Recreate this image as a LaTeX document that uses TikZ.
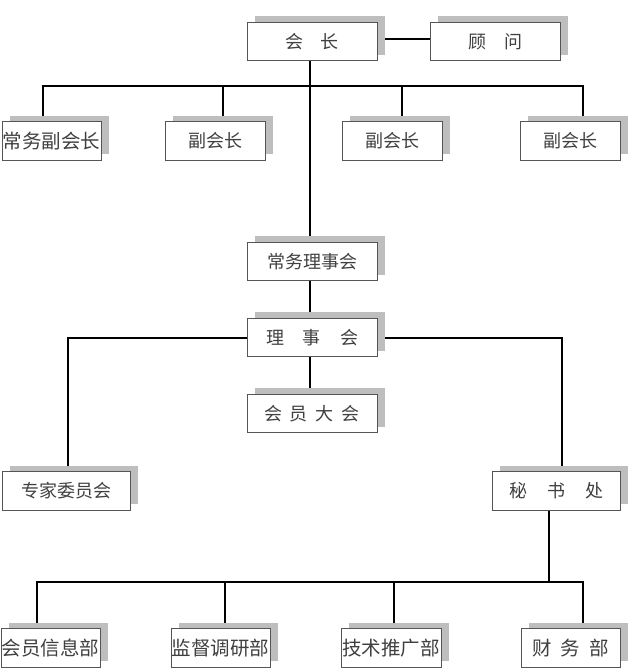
\documentclass[tikz,border=0pt]{standalone}
\usepackage{fontspec}
\newfontfamily\cjk{Noto Sans CJK SC}
\usetikzlibrary{shadows,calc}
\pgfdeclarelayer{bg}
\pgfsetlayers{bg,main}
\definecolor{shadowgray}{HTML}{BEBEBE}
\definecolor{boxline}{HTML}{555555}
\definecolor{txt}{HTML}{404040}
\tikzset{
  box/.style={draw=boxline, line width=0.9pt, fill=white, inner sep=0pt,
    minimum height=38.5pt, text=txt, font=\cjk\fontsize{18}{20}\selectfont,
    drop shadow={shadow xshift=8pt, shadow yshift=6pt, fill=shadowgray, opacity=1}},
  conn/.style={line width=2pt, black}
}
\newcommand{\gp}[1]{\hspace{#1pt}}
\begin{document}
\begin{tikzpicture}[x=1pt,y=-1pt]
\useasboundingbox (0,0) rectangle (629,669);
% top
\node[box, minimum width=130pt] (hz) at (312,41.5) {会\gp{17}长};
\node[box, minimum width=130pt] (gw) at (495,41.5) {顾\gp{18}问};
% vice presidents
\node[box, minimum width=99pt, font=\cjk\fontsize{19.5}{21}\selectfont] (fz1) at (51.5,141) {常务副会长};
\node[box, minimum width=100pt] (fz2) at (215,141) {副会长};
\node[box, minimum width=100pt] (fz3) at (392,141) {副会长};
\node[box, minimum width=100pt] (fz4) at (570,141) {副会长};
% middle column
\node[box, minimum width=130pt] (cw) at (312,261.5) {常务理事会};
\node[box, minimum width=130pt] (ls) at (312,337.5) {理\gp{19}事\gp{19}会};
\node[box, minimum width=130pt] (hy) at (312,413.5) {会\gp{8}员\gp{8}大\gp{8}会};
% second level
\node[box, minimum width=128pt] (zj) at (66,491) {专家委员会};
\node[box, minimum width=128pt] (ms) at (556,491) {秘\gp{20}书\gp{20}处};
% departments
\node[box, minimum width=99pt, font=\cjk\fontsize{19.5}{21}\selectfont] (d1) at (50.5,648) {会员信息部};
\node[box, minimum width=99pt, font=\cjk\fontsize{19.5}{21}\selectfont] (d2) at (220.5,648) {监督调研部};
\node[box, minimum width=100pt, font=\cjk\fontsize{19.5}{21}\selectfont] (d3) at (391,648) {技术推广部};
\node[box, minimum width=99pt, font=\cjk\fontsize{19.5}{21}\selectfont] (d4) at (570.5,648) {财\gp{9}务\gp{9}部};
% connectors
\coordinate (m) at (310,0);
\coordinate (b1) at (43,86);
\coordinate (b2) at (223,86);
\coordinate (b3) at (402,86);
\coordinate (b4) at (583,86);
\coordinate (l1) at (68,338);
\coordinate (r1) at (562,338);
\coordinate (s1) at (549,582);
\coordinate (e1) at (37,582);
\coordinate (e2) at (225,582);
\coordinate (e3) at (394,582);
\coordinate (e4) at (583,582);
\begin{pgfonlayer}{bg}
\draw[conn] (hz.east |- 0,39) -- (gw.west |- 0,39);
\draw[conn] (m |- hz.south) -- (m |- cw.north);
\draw[conn] (b1 |- fz1.north) -- (b1) -- (b4) -- (b4 |- fz4.north);
\draw[conn] (b2) -- (b2 |- fz2.north);
\draw[conn] (b3) -- (b3 |- fz3.north);
\draw[conn] (m |- cw.south) -- (m |- ls.north);
\draw[conn] (m |- ls.south) -- (m |- hy.north);
\draw[conn] (ls.west |- l1) -- (l1) -- (l1 |- zj.north);
\draw[conn] (ls.east |- r1) -- (r1) -- (r1 |- ms.north);
\draw[conn] (s1 |- ms.south) -- (s1);
\draw[conn] (e1 |- d1.north) -- (e1) -- (e4) -- (e4 |- d4.north);
\draw[conn] (e2) -- (e2 |- d2.north);
\draw[conn] (e3) -- (e3 |- d3.north);
\end{pgfonlayer}
\end{tikzpicture}
\end{document}
